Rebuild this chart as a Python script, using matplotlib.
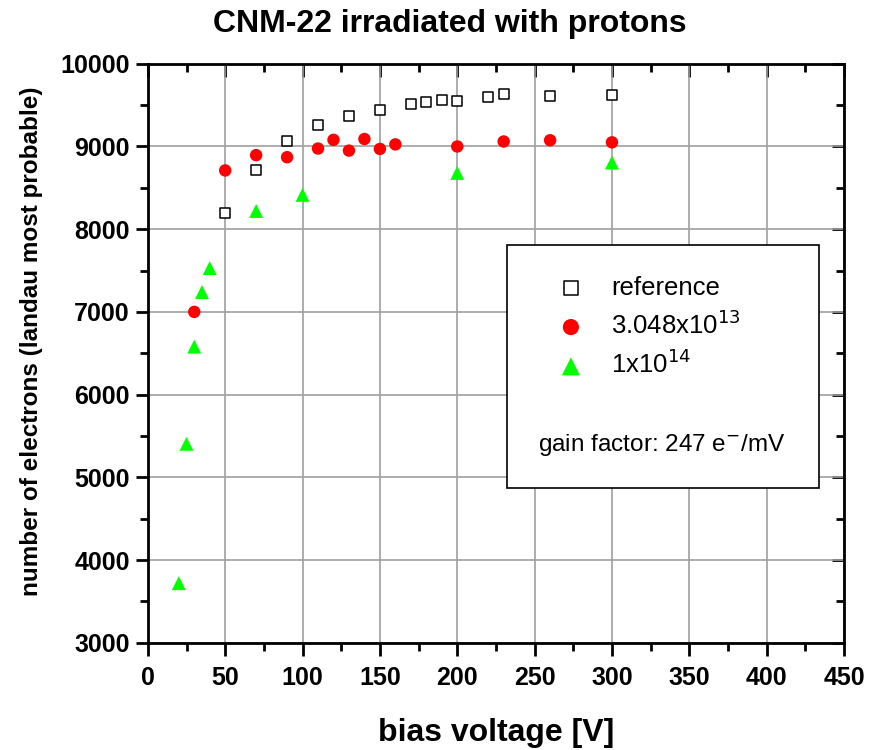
import numpy as np
import matplotlib.pyplot as plt
from matplotlib.patches import Rectangle
from matplotlib.ticker import MultipleLocator

plt.rcParams['font.family'] = ['Liberation Sans', 'DejaVu Sans']

# reference (unirradiated)
ref_v = [50, 70, 90, 110, 130, 150, 170, 180, 190, 200, 220, 230, 260, 300]
ref_e = [8200, 8710, 9070, 9255, 9365, 9445, 9515, 9540, 9560, 9555, 9600, 9630, 9605, 9620]

# 3.048e13
p13_v = [30, 50, 70, 90, 110, 120, 130, 140, 150, 160, 200, 230, 260, 300]
p13_e = [7000, 8710, 8895, 8870, 8975, 9080, 8950, 9090, 8970, 9025, 9000, 9060, 9075, 9050]

# 1e14
p14_v = [20, 25, 30, 35, 40, 70, 100, 200, 300]
p14_e = [3720, 5405, 6580, 7240, 7530, 8220, 8415, 8680, 8805]

fig = plt.figure(figsize=(8.96, 7.5), dpi=100)
ax = fig.add_axes([0.165, 0.143, 0.777, 0.772])

ax.scatter(ref_v, ref_e, marker='s', s=58, facecolors='white', edgecolors='black',
           linewidths=1.1, zorder=3, label='reference')
ax.scatter(p13_v, p13_e, marker='o', s=80, color='#ff0000', edgecolors='none',
           zorder=3, label='3.048x10$^{13}$')
ax.scatter(p14_v, p14_e, marker='^', s=100, color='#00ff00', edgecolors='none',
           zorder=3, label='1x10$^{14}$')

ax.set_xlim(0, 450)
ax.set_ylim(3000, 10000)
ax.xaxis.set_major_locator(MultipleLocator(50))
ax.xaxis.set_minor_locator(MultipleLocator(25))
ax.yaxis.set_major_locator(MultipleLocator(1000))
ax.yaxis.set_minor_locator(MultipleLocator(500))
ax.grid(True, which='major', color='#a0a0a0', lw=1.2)
ax.set_axisbelow(True)
for s in ax.spines.values():
    s.set_linewidth(2)
ax.tick_params(which='both', direction='out', width=2, top=False, right=False)
ax.tick_params(which='major', length=9, labelsize=18)
ax.tick_params(which='minor', length=5.5)
ax.tick_params(axis='x', which='major', pad=8)
ax.tick_params(axis='y', which='major', pad=4)
for lab in ax.get_xticklabels() + ax.get_yticklabels():
    lab.set_fontweight('bold')

# mirrored inward ticks on top / right
axt = ax.secondary_xaxis('top')
axt.xaxis.set_major_locator(MultipleLocator(50))
axt.xaxis.set_minor_locator(MultipleLocator(25))
axt.tick_params(which='both', direction='in', width=2, labeltop=False)
axt.tick_params(which='major', length=9)
axt.tick_params(which='minor', length=5.5)
axr = ax.secondary_yaxis('right')
axr.yaxis.set_major_locator(MultipleLocator(1000))
axr.yaxis.set_minor_locator(MultipleLocator(500))
axr.tick_params(which='both', direction='in', width=2, labelright=False)
axr.tick_params(which='major', length=9)
axr.tick_params(which='minor', length=5.5)

fig.text(0.502, 0.968, 'CNM-22 irradiated with protons', fontsize=23,
         fontweight='bold', ha='center', va='center')
ax.set_xlabel('bias voltage [V]', fontsize=23, fontweight='bold', labelpad=20)
ax.set_ylabel('number of electrons (landau most probable)', fontsize=17.5,
              fontweight='bold')
ax.yaxis.set_label_coords(-0.150, 0.52)

# legend box
box = Rectangle((0.516, 0.268), 0.448, 0.419, transform=ax.transAxes,
                facecolor='white', edgecolor='black', lw=1.2, zorder=4)
ax.add_patch(box)
leg = ax.legend(loc='upper left', bbox_to_anchor=(0.556, 0.652), frameon=False,
                fontsize=18.5, handletextpad=0.56, labelspacing=0.42, scatterpoints=1,
                markerscale=1.3, borderaxespad=0)
leg.set_zorder(5)
ax.text(0.7385, 0.342, 'gain factor: 247 e$^{-}$/mV', transform=ax.transAxes,
        fontsize=17.5, ha='center', va='center', zorder=5)

fig.savefig('out.png', dpi=100)
